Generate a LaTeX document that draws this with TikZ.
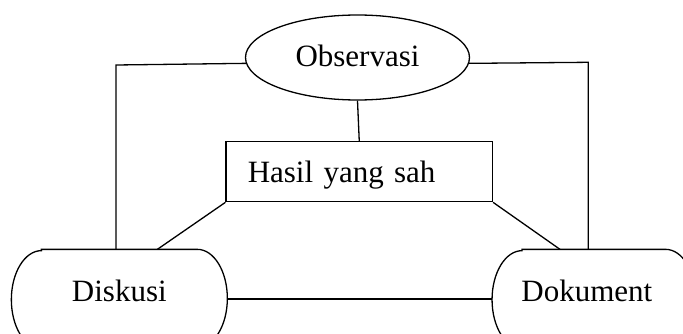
\documentclass[tikz,border=0pt]{standalone}
\usepackage{fontspec}
\setmainfont{Liberation Serif}
\usetikzlibrary{shapes.geometric}

% horizontal radius of the rounded ends of the terminal boxes
\newcommand\pillr{30pt}
% outline of a box with elliptic ends, drawn round a named node
\newcommand\pilloutline[1]{%
  \draw ([xshift=\pillr]#1.north west) -- ([xshift=-\pillr]#1.north east)
    arc[start angle=90, end angle=-90, x radius=\pillr, y radius=49pt]
    -- ([xshift=\pillr]#1.south west)
    arc[start angle=270, end angle=90, x radius=\pillr, y radius=49pt]
    -- cycle;}

\tikzset{
  every node/.style={font=\fontsize{31}{37}\selectfont, inner sep=0pt},
  oval/.style={draw, ellipse, minimum width=224pt, minimum height=85pt,
    text height=21pt, text depth=4pt},
  resultbox/.style={draw, rectangle, minimum height=60pt,
    text width=223pt, inner xsep=21.7pt, align=left,
    text height=24pt, text depth=2pt},
  pill/.style={rectangle, minimum height=98pt,
    text height=20pt, text depth=16pt},
}

\begin{document}
\begin{tikzpicture}[x=1pt, y=1pt, line width=1.3pt]
  \useasboundingbox (0,0) rectangle (683,333);
  \clip (0,0) rectangle (683,333);

  \node[oval] (obs) at (357.5,275.5) {Observasi};
  \node[resultbox] (has) at (359.25,161.3) {Hasil yang sah};
  \node[pill, minimum width=214.7pt] (dis) at (119.35,34) {Diskusi};
  \node[pill, minimum width=202.3pt] (dok) at (593.85,34) {\hspace*{-14pt}Dokument};
  \pilloutline{dis}
  \pilloutline{dok}

  % corner points of the outer connectors
  \coordinate (lc) at (116,268);
  \coordinate (rc) at (588.3,270.7);

  \draw (obs.183) -- (lc) -- (lc |- dis.north);
  \draw (obs.357) -- (rc) -- (rc |- dok.north);
  \draw (obs.south) -- (has.north);
  \draw (has.south west) -- ([xshift=38pt]dis.north);
  \draw (has.south east) -- ([xshift=-33.85pt]dok.north);
  \draw (dis.east) -- (dok.west);
\end{tikzpicture}
\end{document}
